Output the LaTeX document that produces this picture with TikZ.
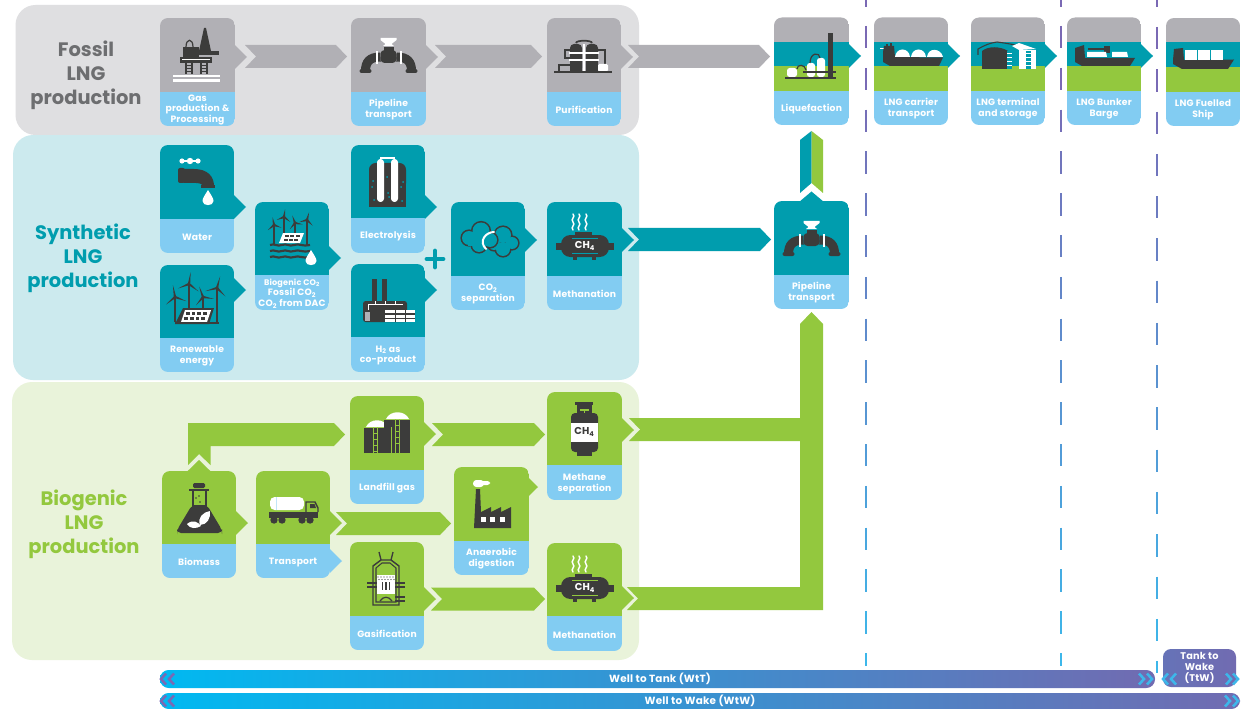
\documentclass[tikz,border=0pt]{standalone}
\usepackage{fontspec}
\setmainfont{Poppins}
\newfontfamily\labfont{Poppins}[LetterSpace=2]
\usetikzlibrary{calc}
\definecolor{dk}{HTML}{3C3C3B}
\definecolor{cgray}{HTML}{B1B0B5}
\definecolor{lblue}{HTML}{82CCF2}
\definecolor{cteal}{HTML}{009DAE}
\definecolor{cgreen}{HTML}{93C83E}
\definecolor{bggray}{HTML}{DFDFE1}
\definecolor{bgteal}{HTML}{CCEAEE}
\definecolor{bggreen}{HTML}{E9F3DA}
\definecolor{tgray}{HTML}{6D6E70}
\definecolor{dpurp}{HTML}{7A69B4}
\definecolor{dcyan}{HTML}{3DB7EA}
\definecolor{bcyan}{HTML}{00B9F1}
\definecolor{bpurp}{HTML}{716BB1}
\tikzset{
  box/.style={inner sep=0pt,outer sep=0pt,anchor=north west},
  lab/.style={text=white,align=center,inner sep=0pt,font=\labfont\fontsize{6.9}{8.2}\selectfont\bfseries},
  ttl/.style={align=center,inner sep=0pt,font=\fontsize{14.6}{18}\selectfont\bfseries},
  bar/.style={text=white,inner sep=0pt,outer sep=0pt,font=\labfont\fontsize{7.8}{8}\selectfont\bfseries,shade,shading=axis,left color=bcyan,right color=bpurp,rounded corners=6.5pt},
  dbl/.style={line width=1.9pt,miter limit=10},
  pp/.style={dk,line width=1.3pt},
}
% name x1 y1 x2 y2 split colour label
\newcommand\card[8]{%
  \begin{scope}\clip[rounded corners=6pt] (#2,#3) rectangle (#4,#5);
  \fill[#7] (#2,#3) rectangle (#4,#6);
  \fill[lblue] (#2,#6) rectangle (#4,#5);\end{scope}
  \node[box,minimum width={(#4-#2)*0.75pt},minimum height={(#5-#3)*0.75pt}] (#1) at (#2,#3) {};
  \node[lab] (#1-t) at ({(#2+#4)/2},{(#6+#5)/2+1}) {#8};}
% band card: name x1 y1 x2 y2 b1 b2 b3 label
\newcommand\bandcard[9]{%
  \begin{scope}\clip[rounded corners=6pt] (#2,#3) rectangle (#4,#5);
  \fill[cgray] (#2,#3) rectangle (#4,#6);
  \fill[cteal] (#2,#6) rectangle (#4,#7);
  \fill[cgreen] (#2,#7) rectangle (#4,#8);
  \fill[lblue] (#2,#8) rectangle (#4,#5);\end{scope}
  \node[box,minimum width={(#4-#2)*0.75pt},minimum height={(#5-#3)*0.75pt}] (#1) at (#2,#3) {};
  \node[lab] (#1-t) at ({(#2+#4)/2},{(#8+#5)/2+1}) {#9};}
% tip on right edge: node, y offset from top, colour
\newcommand\tipR[3]{\fill[#3] ($(#1.north east)+(-.2,#2-12)$) -- ($(#1.north east)+(12,#2)$) -- ($(#1.north east)+(-.2,#2+12)$) -- cycle;}
\newcommand\tipU[3]{\fill[#2] ($(#1.north)+(-11.5,.2)$) -- ($(#1.north)+(0,-#3)$) -- ($(#1.north)+(11.5,.2)$) -- cycle;}
% chevron arrow: src dx tgt dx y colour
\newcommand\chev[6]{%
  \coordinate (#1-out) at ($(#1.east |- 0,#5)+(#2,0)$);
  \coordinate (#3-in) at ($(#3.west |- 0,#5)+(#4,0)$);
  \fill[#6] ($(#1-out)+(0,-11.5)$) -- ($(#3-in)+(-11,-11.5)$) -- (#3-in) -- ($(#3-in)+(-11,11.5)$) -- ($(#1-out)+(0,11.5)$) -- ($(#1-out)+(11,0)$) -- cycle;}
\newcommand\drop[3]{\fill[white] (#1,#2) .. controls ({#1+.6*#3},{#2+#3}) and ({#1+#3},{#2+1.5*#3}) .. ({#1+#3},{#2+2*#3}) .. controls ({#1+#3},{#2+3*#3}) and ({#1-#3},{#2+3*#3}) .. ({#1-#3},{#2+2*#3}) .. controls ({#1-#3},{#2+1.5*#3}) and ({#1-.6*#3},{#2+#3}) .. (#1,#2) -- cycle;}
% turbine hubx huby bottom angle len
\newcommand\turb[5]{%
  \draw[dk,line width=1.1pt] (#1,#2) -- (#1,#3);
  \begin{scope}[shift={(#1,#2)},rotate=#4]
  \foreach \a in {0,120,240}{\fill[dk,rotate=\a] (-1.2,0) -- (-.9,{-.25*#5}) -- (0,-#5) -- (.9,{-.25*#5}) -- (1.2,0) -- cycle;}
  \end{scope}}
\newcommand\heat[2]{\draw[white,line width=1.1pt,line cap=round] (#1,#2) .. controls ({#1+3},{#2+3}) and ({#1-3},{#2+5}) .. ({#1},{#2+8}) .. controls ({#1+3},{#2+11}) and ({#1-3},{#2+13}) .. ({#1},{#2+16});}
% pipeline icon, cx, top
\newcommand\pipeicon[2]{\begin{scope}[shift={(#1,#2)}]
  \fill[white] (-8,0) -- (8,0) -- (8,2) -- (3,6) -- (5.5,8) -- (-5.5,8) -- (-3,6) -- (-8,2) -- cycle;
  \fill[dk] (-5,9) rectangle (5,14);
  \draw[dk,line width=6.8pt] (-8,19) .. controls (-19,19) and (-23,24) .. (-23,33);
  \draw[dk,line width=6.8pt] (8,19) .. controls (19,19) and (23,24) .. (23,33);
  \fill[dk,rounded corners=1.5pt] (-29,31) rectangle (-17,35);
  \fill[dk,rounded corners=1.5pt] (17,31) rectangle (29,35);
  \fill[dk,rounded corners=3pt] (-8,12) rectangle (8,25);
  \fill[white] (-13,13) rectangle (-11,26);
  \fill[white] (11,13) rectangle (13,26);
  \end{scope}}
% tank icon, cx, cy, line colour
\newcommand\tankicon[3]{\begin{scope}[shift={(#1,#2)}]
  \fill[dk] (-29,-3) rectangle (29,4);
  \fill[dk] (-10,-14) rectangle (7,-9);
  \fill[dk,rounded corners=7pt] (-24,-11) rectangle (24,11);
  \fill[dk] (-12,9) rectangle (-8,14); \fill[dk] (7,9) rectangle (11,14);
  \draw[#3,line width=.8pt] (-13,-7.5) -- (13,-7.5) (-13,7.5) -- (13,7.5);
  \node[inner sep=0pt,text=white,font=\fontsize{7.5}{8}\selectfont\bfseries] (#1-#2-ch) at (0,0) {CH\textsubscript{\tiny 4}};
  \heat{-12}{-32}\heat{-6}{-32}\heat{1}{-32}
  \end{scope}}
\begin{document}
\begin{tikzpicture}[x=.75pt,y=-.75pt]
\useasboundingbox (0,0) rectangle (1244,709);
\fill[white] (0,0) rectangle (1244,709);
% backgrounds
\fill[bggreen,rounded corners=15pt] (12,382) rectangle (639,660);
\fill[bgteal,rounded corners=15pt] (13,135) rectangle (639,380);
\fill[bggray,rounded corners=15pt] (15.5,5) rectangle (639,135);
% dashed lines
\foreach \xx/\st/\pr/\en in {866/26/41.8/666,1061/26/41.8/666,1157/27/42.27/673}{
  \foreach \k in {-1,...,15}{
    \pgfmathsetmacro\ya{\st+\pr*\k}
    \pgfmathsetmacro\yb{min(\ya+22.4,\en)}
    \pgfmathtruncatemacro\pc{max(0,min(100,(\ya-60)/5.8))}
    \draw[line width=1.9pt,color=dcyan!\pc!dpurp] (\xx,{\ya}) -- (\xx,{\yb});
  }}
% titles
\node[ttl,text=tgray] (t1) at (86,75) {Fossil\\LNG\\production};
\node[ttl,text=cteal] (t2) at (83,258) {Synthetic\\LNG\\production};
\node[ttl,text=cgreen] (t3) at (84,524) {Biogenic\\LNG\\production};
% fossil
\card{gas}{160}{18}{235}{126}{92}{cgray}{Gas\\production \&\\Processing}
\card{pipea}{351}{18}{426}{126}{92}{cgray}{Pipeline\\transport}
\card{puri}{547}{18}{621}{126}{92}{cgray}{Purification}
\bandcard{liq}{774}{17.5}{849}{125}{42}{66}{91}{Liquefaction}
\bandcard{carrier}{874}{17.5}{948}{125}{42}{66}{91}{LNG carrier\\transport}
\bandcard{term}{971}{17.5}{1045}{125}{42}{66}{91}{LNG terminal\\and storage}
\bandcard{bunker}{1067}{17.5}{1141}{125}{42}{66}{91}{LNG Bunker\\Barge}
\bandcard{fuel}{1166}{18}{1240}{126}{42}{67}{92}{LNG Fuelled\\Ship}
\tipR{gas}{39}{cgray}\tipR{pipea}{39}{cgray}\tipR{puri}{39}{cgray}
\tipR{liq}{38.5}{cteal}\tipR{carrier}{38.5}{cteal}\tipR{term}{38.5}{cteal}\tipR{bunker}{38.5}{cteal}
\chev{gas}{10}{pipea}{-4}{56.5}{cgray}
\chev{pipea}{9}{puri}{-5}{56.5}{cgray}
\chev{puri}{7}{liq}{-4}{56.5}{cgray}
% synthetic
\card{water}{160}{145}{234}{253}{219}{cteal}{Water}
\card{renew}{160}{265}{234}{372}{338}{cteal}{Renewable\\energy}
\card{bio}{255}{202}{329}{310}{275}{cteal}{\fontsize{6.1}{7.4}\selectfont Biogenic CO\textsubscript{2}\\Fossil CO\textsubscript{2}\\CO\textsubscript{2} from DAC}
\card{elec}{351}{145}{425}{253}{218}{cteal}{Electrolysis}
\card{htwo}{351}{264}{425}{372}{337}{cteal}{H\textsubscript{2} as\\co-product}
\card{sep}{451}{202}{525}{310}{276}{cteal}{CO\textsubscript{2}\\separation}
\card{metha}{547}{202}{622}{310}{276}{cteal}{Methanation}
\card{pipeb}{774}{201}{849}{309}{275}{cteal}{Pipeline\\transport}
\tipR{water}{62}{cteal}\tipR{renew}{25}{cteal}\tipR{bio}{56}{cteal}
\tipR{elec}{62}{cteal}\tipR{htwo}{26}{cteal}\tipR{sep}{38}{cteal}\tipR{metha}{38}{cteal}
\tipU{pipeb}{cteal}{9.5}
\node[inner sep=0pt,minimum size=0pt] (plus) at (435,259) {};
\draw[cteal,line width=3.6pt,line cap=round] ($(plus)+(-8,0)$) -- ($(plus)+(8,0)$) ($(plus)+(0,-8)$) -- ($(plus)+(0,8)$);
\chev{metha}{6}{pipeb}{-3}{239.5}{cteal}
% up arrow
\coordinate (upA) at ($(pipeb.north)+(0,-18)$);
\coordinate (upB) at ($(liq.south)+(0,6)$);
\fill[cteal] ($(upA)+(-11.5,10)$) -- (upA) -- (upB) -- ($(upB)+(-11.5,9)$) -- cycle;
\fill[cgreen] ($(upA)+(11.5,10)$) -- (upA) -- (upB) -- ($(upB)+(11.5,9)$) -- cycle;
% biogenic
\card{biomass}{162}{471}{236}{578}{544}{cgreen}{Biomass}
\card{trans}{256}{471}{330}{578}{544}{cgreen}{Transport}
\card{land}{350}{396}{424}{504}{470}{cgreen}{Landfill gas}
\card{gasif}{350}{542}{424}{650}{616}{cgreen}{Gasification}
\card{anae}{454}{467}{529}{575}{541}{cgreen}{Anaerobic\\digestion}
\card{msep}{547}{392}{622}{500}{465}{cgreen}{Methane\\separation}
\card{methb}{547}{543}{622}{651}{616}{cgreen}{Methanation}
\tipR{biomass}{52}{cgreen}\tipR{land}{38}{cgreen}\tipR{gasif}{57}{cgreen}\tipR{msep}{38}{cgreen}\tipR{methb}{55}{cgreen}
\tipR{trans}{52}{cgreen}\tipR{trans}{90}{lblue}
\fill[cgreen] ($(anae.north east)+(-.2,11)$) -- ($(anae.north east)+(9,20)$) -- ($(anae.north east)+(-.2,29)$) -- cycle;
\tipU{biomass}{cgreen}{11}
\chev{trans}{6}{anae}{-3}{523.5}{cgreen}
\chev{land}{8}{msep}{-2}{434.5}{cgreen}
\chev{gasif}{7}{methb}{-2}{599}{cgreen}
% biomass L arrow
\coordinate (bmS) at ($(biomass.north)+(0,-17)$);
\coordinate (bmT) at ($(land.west |- 0,434.5)+(-5,0)$);
\fill[cgreen] ($(bmS)+(-11,11)$) -- (bmS) -- ($(bmS)+(11.5,11)$) -- ($(bmS |- bmT)+(11.5,11.5)$) -- ($(bmT)+(-11,11.5)$) -- (bmT) -- ($(bmT)+(-11,-11.5)$) -- ($(bmS |- bmT)+(-11,-11.5)$) -- cycle;
% main green arrow into pipeline
\coordinate (gT) at ($(pipeb.south)+(0,3)$);
\coordinate (gA) at ($(msep.east |- 0,429.5)+(7,0)$);
\coordinate (gB) at ($(methb.east |- 0,598.5)+(5,0)$);
\fill[cgreen] (gT) -- ($(gT)+(11.5,12)$) -- ($(gT |- gB)+(11.5,11.5)$) -- ($(gB)+(0,11.5)$) -- ($(gB)+(11,0)$) -- ($(gB)+(0,-11.5)$) -- ($(gT |- gB)+(-11.5,-11.5)$) -- ($(gT |- gA)+(-11.5,11.5)$) -- ($(gA)+(0,11.5)$) -- ($(gA)+(11,0)$) -- ($(gA)+(0,-11.5)$) -- ($(gT |- gA)+(-11.5,-11.5)$) -- ($(gT)+(-11.5,12)$) -- cycle;
% ---- icons ----
% rig
\fill[dk] (204,28) -- (206,28) -- (211,51) -- (199,51) -- cycle;
\fill[dk] (183,47) rectangle (199,57);
\draw[dk,line width=.9pt] (186,47) .. controls (186,38) and (193,38) .. (193,47);
\fill[dk] (199,51) rectangle (219,55);
\fill[dk] (180,57) rectangle (212,63);
\fill[white] (182,59) rectangle (210,60.5);
\foreach \lx in {185,200}{\fill[dk] (\lx,63) rectangle ({\lx+2},74);\fill[dk] ({\lx+6},63) rectangle ({\lx+8},74);
  \foreach \ly in {65,68,71}{\fill[dk] (\lx,\ly) rectangle ({\lx+8},{\ly+1});}}
\fill[white] (173,75) rectangle (220,77.5);\fill[white] (173,79.5) rectangle (220,82);
\pipeicon{388.5}{38}
% purification
\draw[pp] (576,43) .. controls (576,40) and (592,40) .. (592,43);
\draw[pp] (570,50) -- (565,50) -- (565,58) -- (570,58) (559,72) -- (559,65) -- (570,65) (598,50) -- (605,50) -- (605,64);
\fill[dk,rounded corners=3pt] (570,44) rectangle (582,72);\fill[dk] (570,55) rectangle (582,72);
\fill[dk,rounded corners=3pt] (586,44) rectangle (598,72);\fill[dk] (586,55) rectangle (598,72);
\fill[white] (569,52.5) rectangle (599,54);\fill[white] (569,59.5) rectangle (599,61);\fill[white] (583,44) rectangle (585,72);
\fill[white,rounded corners=1pt] (598,64) rectangle (608,71.5);
\fill[dk] (554,71.5) rectangle (612,73);
% liquefaction
\fill[dk] (828,33) rectangle (833,78);
\fill[white,rounded corners=2pt] (787,68) rectangle (797,77);
\fill[white,rounded corners=2pt] (807,63) rectangle (815,77);
\fill[white,rounded corners=2pt] (817,58) rectangle (825,77);
\draw[dk,line width=.9pt] (797,69) .. controls (797,64) and (805,64) .. (806,70);
\draw[dk,line width=.9pt] (810,63) .. controls (810,52) and (820,52) .. (820,58);
\draw[dk,line width=.9pt] (803,72) -- (836,72);
\fill[dk] (785,77) rectangle (836,79);
% carrier
\fill[white] (880,48.5) rectangle (893,49.5);
\fill[dk] (883,52) -- (884,46) -- (894,46) -- (895,57) -- (943,57.5) -- (939,66) -- (890,66) -- (883,62) -- cycle;
\fill[dk] (886,44) rectangle (888,48);\fill[dk] (890,43) rectangle (892,48);
\fill[white] (895,57) .. controls (896,47) and (909,47) .. (910,57) -- cycle;
\fill[white] (911,57) .. controls (912,47) and (925,47) .. (926,57) -- cycle;
\fill[white] (927,57) .. controls (928,47) and (941,48) .. (943,57) -- cycle;
% terminal
\draw[dk,line width=.8pt] (978,55) -- (978,49) .. controls (985,45) and (990,43) .. (997,42) .. controls (1004,43) and (1012,44) .. (1019,46);
\fill[dk] (982,51) rectangle (1008,69);
\fill[dk] (982,51) .. controls (988,46) and (1000,46) .. (1008,51) -- cycle;
\fill[white] (1019,50) rectangle (1036,69);
\fill[white] (1012,46) -- (1019,43) -- (1036,49) -- (1019,50) -- cycle;
\foreach \sx in {1007,1026}{\fill[cteal] (\sx,51) rectangle ({\sx+5},69);
  \foreach \sy in {53,57,61,65}{\fill[white] (\sx,\sy) rectangle ({\sx+5},{\sy+1});}}
% bunker
\fill[dk] (1075,58) -- (1075,48) -- (1084,45) -- (1085,58) -- (1135,58) -- (1130,66) -- (1082,66) -- (1075,62) -- cycle;
\fill[dk] (1088,48.5) rectangle (1110,50);\fill[dk] (1104,46) rectangle (1110,53);
\fill[white] (1087,52) -- (1106,52) -- (1107,57) -- (1087,57) -- cycle;
\fill[white] (1112,52) -- (1127,52) -- (1128,57) -- (1112,57) -- cycle;
% fuelled
\fill[dk] (1173,60) -- (1174,49) -- (1183,48) -- (1184,60) -- (1234,59.5) -- (1228,69) -- (1182,69) -- (1173,64) -- cycle;
\fill[white] (1185,50) rectangle (1197,60);\fill[white] (1198,50) rectangle (1210,60);\fill[white] (1211,50) rectangle (1223,60);
% water
\draw[white,line width=.8pt] (182,161) -- (198,161);
\fill[white] (182,161) circle[radius=2.6];\fill[white] (190,161) circle[radius=3.2];\fill[white] (198,161) circle[radius=2.6];
\fill[dk,rounded corners=1.5pt] (178,168) rectangle (185,183);
\fill[dk] (184,169) -- (194,169) .. controls (207,169) and (214,176) .. (214,186) -- (203,186) .. controls (203,185) and (201,183) .. (196,183) -- (184,183) -- cycle;
\fill[dk] (201,185) rectangle (215,188);
\drop{208}{190}{5.5}
% renewable
\turb{175}{297}{322}{10}{12}\turb{189}{284}{310}{-8}{12}\turb{203}{297}{312}{20}{11}\turb{217}{288}{322}{-15}{12}
\fill[dk] (183,308) -- (214,308) -- (209,324) -- (175,324) -- cycle;
\fill[white] (185,310) -- (211,310) -- (207,322) -- (181,322) -- cycle;
\foreach \gx in {0,1,2,3}{\foreach \gy in {0,1}{\fill[dk] ({186+\gx*5.6-\gy*1.6},{311.5+\gy*5}) rectangle ++(3.8,3.2);}}
\fill[dk] (175,322) rectangle (219,324);
% bio co2 icon
\turb{274}{225}{245}{10}{8}\turb{284}{217}{236}{-8}{8}\turb{295}{223}{236}{20}{8}\turb{307}{220}{245}{-15}{8}
\fill[white] (283,233) -- (304,233) -- (300,243) -- (279,243) -- cycle;
\foreach \gx in {0,1,2}{\foreach \gy in {0,1}{\fill[dk] ({285+\gx*5.4-\gy*1.4},{234.5+\gy*4}) rectangle ++(4,2.8);}}
\foreach \wy in {245,251,257}{\draw[dk,line width=1.6pt] (270,\wy) .. controls (275,{\wy-2}) and (277,{\wy+2}) .. (282,\wy) .. controls (287,{\wy-2}) and (289,{\wy+2}) .. (294,\wy) .. controls (299,{\wy-2}) and (303,{\wy+2}) .. (310,\wy);}
\drop{311}{250}{5.5}
% electrolysis
\fill[dk,rounded corners=5pt] (369,163) rectangle (406,190);\fill[dk] (369,175) rectangle (406,207);
\draw[white,line width=.9pt] (380.5,161) -- (380.5,158) -- (394.5,158) -- (394.5,161);
\fill[white,rounded corners=2.5pt] (377,159) rectangle (384,202);
\fill[white,rounded corners=2.5pt] (391,159) rectangle (398,202);
\foreach \dx/\dy in {373/181,372/187,374/200,387/177,388/193,389/197,403/182,401/187,402/201}{\fill[cteal] (\dx,\dy) circle[radius=1];}
% h2
\fill[dk] (372,279) rectangle (377,302);\fill[dk] (382,279) rectangle (387,302);
\fill[dk,rounded corners=2pt] (363,301) rectangle (407,322);
\draw[white,line width=.7pt] (368,310) -- (368,304) -- (403,304) (375,301) -- (375,304) (385,301) -- (385,304) (395,301) -- (395,304);
\fill[white] (385,310) rectangle (415,322);
\fill[dk] (385,313) rectangle (415,314.5);\fill[dk] (385,318) rectangle (415,319);\fill[dk] (395,310) rectangle (395.6,322);\fill[dk] (405,310) rectangle (405.6,322);
\fill[cgray] (365,312) rectangle (370,321);
% clouds
\foreach \cx/\cy/\cr in {494/244/6,503/235/8,512/243/6,503/249/7}{\fill[dk] (\cx,\cy) circle[radius=\cr+1.6];}
\foreach \cx/\cy/\cr in {494/244/6,503/235/8,512/243/6,503/249/7}{\fill[cteal] (\cx,\cy) circle[radius=\cr];}
\foreach \cx/\cy/\cr in {469/238/7,481/231/8.5,490/240/7,479/245/7}{\fill[dk] (\cx,\cy) circle[radius=\cr+1.6];}
\foreach \cx/\cy/\cr in {469/238/7,481/231/8.5,490/240/7,479/245/7}{\fill[cteal] (\cx,\cy) circle[radius=\cr];}
\fill[cteal] (468,232) rectangle (490,246);
\draw[white,line width=1.5pt,line cap=round] (494,232) .. controls (486,232) and (478,241) .. (486,249);
% tanks
\tankicon{585}{246}{cteal}
\tankicon{585}{588}{cgreen}
\pipeicon{811.5}{221}
% flask
\fill[dk,rounded corners=1pt] (193,483) rectangle (205,488);
\fill[dk] (189,489) rectangle (209,491);
\fill[dk] (192,491) rectangle (194,505);\fill[dk] (205,491) rectangle (207,505);
\fill[dk,rounded corners=3pt] (192,505) -- (207,505) -- (222,530) -- (222,533) -- (177,533) -- (177,530) -- cycle;
\fill[dk] (192,505) rectangle (207,512);
\fill[dk] (196,498) circle[radius=.8];\fill[dk] (200,502) circle[radius=.8];\fill[dk] (199,496) circle[radius=.8];
\fill[white] (187,524) .. controls (193,519) and (198,522) .. (201,526) .. controls (196,529) and (190,529) .. (187,524) -- cycle;
\fill[white] (200,525) .. controls (197,518) and (203,512) .. (210,511) .. controls (211,518) and (207,525) .. (200,525) -- cycle;
% truck
\fill[white,rounded corners=3.5pt] (270,497) rectangle (304,510);
\fill[lblue!50!white] (276,497) rectangle (277,510);
\fill[dk] (269,512) rectangle (318,517.5);
\draw[dk,line width=1.1pt] (306,512) -- (306,502) -- (315,502) -- (318,508) -- (318,512);
\fill[dk] (310,504) -- (314.5,504) -- (316,508) -- (310,508) -- cycle;
\foreach \wx in {274,282,302,310}{\fill[dk] (\wx,520) circle[radius=3.7];}
% landfill
\fill[white] (366,427) .. controls (370,418) and (384,418) .. (388,427) -- cycle;
\fill[white] (386,419) .. controls (390,410) and (405,410) .. (409,419) -- cycle;
\fill[dk] (384,419.5) rectangle (410,453);
\fill[dk] (364,427.5) rectangle (390,453);
\fill[cgreen] (391,427) rectangle (391.7,453);
\foreach \lx/\ly in {373/427,395/419}{\fill[cgreen] (\lx,\ly) rectangle ({\lx+.8},453);\fill[cgreen] ({\lx+4},\ly) rectangle ({\lx+4.8},453);
  \foreach \s in {1,2,3,4}{\fill[cgreen] (\lx,{\ly+\s*6}) rectangle ({\lx+4.8},{\ly+\s*6+.8});}}
% gasification
\draw[dk,line width=1pt,line join=round] (381,560) -- (379,552) (391,560) -- (393,552);
\draw[dk,line width=1.1pt] (373,605) -- (373,566) -- (381,560) -- (391,560) -- (399,566) -- (399,605) -- cycle;
\draw[dk,line width=.8pt] (376,602) -- (376,568) -- (382,563) -- (390,563) -- (396,568) -- (396,602) -- cycle;
\draw[dk,line width=.9pt] (367,583) -- (377,583) (367,587) -- (377,587) (395,583) -- (405,583) (395,587) -- (405,587) (395,597) -- (405,597) (395,601) -- (405,601);
\fill[white] (377,575) rectangle (395,594);
\foreach \q in {0,...,5}{\fill[dk] ({378+\q*3},577) circle[radius=.6];\fill[dk] ({379+\q*3},579.5) circle[radius=.6];}
\foreach \q in {0,1,2}{\fill[dk] ({381.5+\q*3.5},582) rectangle ({383+\q*3.5},590);}
\draw[dk,line width=.9pt] (380,601) .. controls (383,596) and (389,596) .. (392,601);
% factory
\fill[white,rounded corners=2.5pt] (473,480) rectangle (484,487);\fill[white,rounded corners=2pt] (481,481) rectangle (490,485);
\fill[dk] (474,528) -- (476,489) -- (480,489) -- (481,512) -- (491,507) -- (491,512) -- (501,507) -- (501,512) -- (511,507) -- (511,528) -- cycle;
\foreach \wx in {481,490,500}{\fill[white] (\wx,517) rectangle ++(5,5);}
% bottle
\fill[dk] (575,402) rectangle (593,405);
\fill[dk] (577,405) rectangle (592,413);
\fill[cgreen] (580,409) rectangle (589,410.5);\fill[cgreen] (584,410) rectangle (585,413);
\fill[dk,rounded corners=3pt] (571,413) rectangle (598,452);
\fill[dk] (577,452) rectangle (592,456);
\fill[white] (571,423) rectangle (598,442);
\node[inner sep=0pt,text=dk,font=\fontsize{7.5}{8}\selectfont\bfseries] (ch) at (584.5,432) {CH\textsubscript{\tiny 4}};
% bars
\node[bar,anchor=north west,minimum width={995*0.75pt},minimum height={18*0.75pt}] (wtt) at (160,670) {\hspace*{3.75pt}Well to Tank (WtT)};
\node[bar,anchor=north west,minimum width={1080*0.75pt},minimum height={16*0.75pt}] (wtw) at (160,693) {Well to Wake (WtW)};
\node[bar,anchor=north west,left color=bpurp!90!bcyan,right color=bpurp,minimum width={73*0.75pt},minimum height={38*0.75pt},rounded corners=6pt,align=center,font=\labfont\fontsize{7.3}{8.4}\selectfont\bfseries] (ttw) at (1163,649) {Tank to\\Wake\\(TtW)};
\draw[dbl,dpurp] ($(wtt.west)+(6,-5.5)$) -- ($(wtt.west)+(1,0)$) -- ($(wtt.west)+(6,5.5)$);
\draw[dbl,dpurp] ($(wtt.west)+(14,-5.5)$) -- ($(wtt.west)+(9,0)$) -- ($(wtt.west)+(14,5.5)$);
\draw[dbl,dpurp] ($(wtw.west)+(6,-5.5)$) -- ($(wtw.west)+(1,0)$) -- ($(wtw.west)+(6,5.5)$);
\draw[dbl,dpurp] ($(wtw.west)+(14,-5.5)$) -- ($(wtw.west)+(9,0)$) -- ($(wtw.west)+(14,5.5)$);
\draw[dbl,dcyan] ($(wtt.east)+(-16,-5.5)$) -- ($(wtt.east)+(-11,0)$) -- ($(wtt.east)+(-16,5.5)$);
\draw[dbl,dcyan] ($(wtt.east)+(-8,-5.5)$) -- ($(wtt.east)+(-3,0)$) -- ($(wtt.east)+(-8,5.5)$);
\draw[dbl,dcyan] ($(wtw.east)+(-15,-5.5)$) -- ($(wtw.east)+(-10,0)$) -- ($(wtw.east)+(-15,5.5)$);
\draw[dbl,dcyan] ($(wtw.east)+(-7,-5.5)$) -- ($(wtw.east)+(-2,0)$) -- ($(wtw.east)+(-7,5.5)$);
\coordinate (tl) at ($(ttw.south west)+(0,-8)$);
\coordinate (tr) at ($(ttw.south east)+(0,-8)$);
\draw[dbl,dcyan] ($(tl)+(5,-5.5)$) -- ($(tl)+(0,0)$) -- ($(tl)+(5,5.5)$);
\draw[dbl,dcyan] ($(tl)+(13,-5.5)$) -- ($(tl)+(8,0)$) -- ($(tl)+(13,5.5)$);
\draw[dbl,dcyan] ($(tr)+(-10,-5.5)$) -- ($(tr)+(-5,0)$) -- ($(tr)+(-10,5.5)$);
\draw[dbl,dcyan] ($(tr)+(-3,-5.5)$) -- ($(tr)+(2,0)$) -- ($(tr)+(-3,5.5)$);
\end{tikzpicture}
\end{document}
